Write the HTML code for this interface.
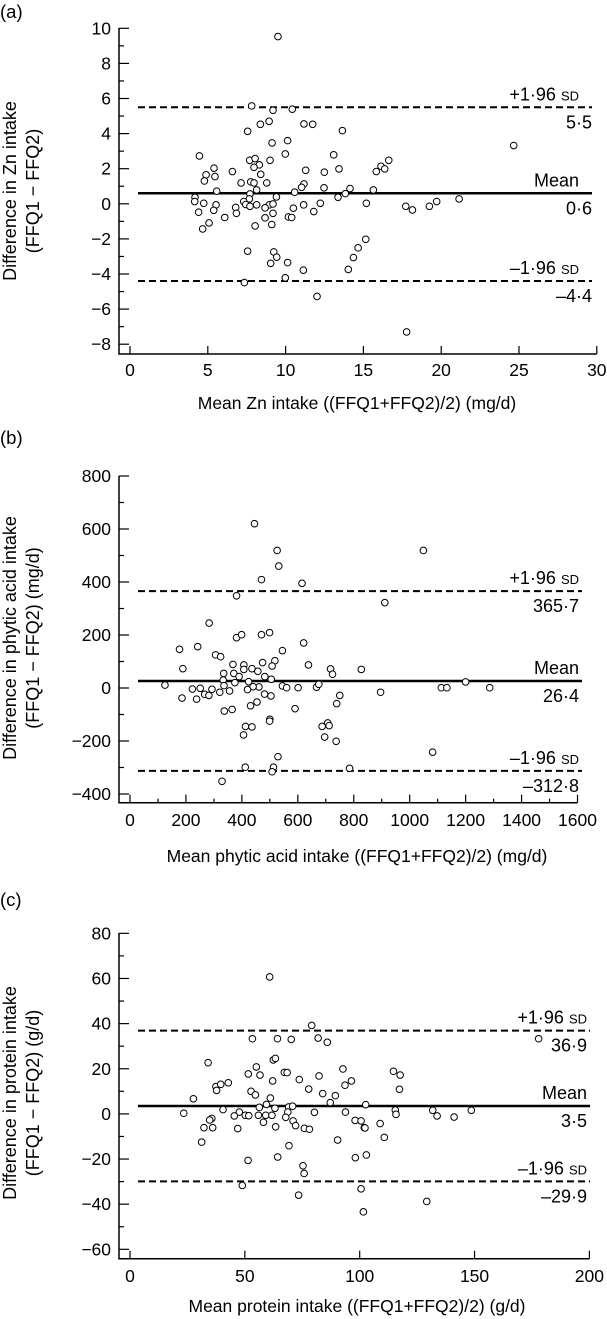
<!DOCTYPE html>
<html><head><meta charset="utf-8"><style>
html,body{margin:0;padding:0;background:#fff;}
svg{display:block;font-family:"Liberation Sans",Arial,sans-serif;}
</style></head><body>
<svg id="chart" width="607" height="1319" viewBox="0 0 607 1319" xmlns="http://www.w3.org/2000/svg"></svg>
<script>
// ---- Panel (a) Zn ----
const aX=[9.51,7.82,9.19,10.43,8.38,8.94,11.18,11.74,7.56,13.65,9.13,10.13,24.66,4.46,9.98,13.09,7.69,8.04,9.00,16.63,8.31,7.97,5.40,11.29,13.43,16.13,16.37,4.89,5.46,6.58,8.40,12.49,15.83,4.78,7.14,7.76,7.97,8.79,11.18,11.03,5.57,7.71,8.14,12.47,10.58,14.14,15.64,13.84,7.67,9.41,4.18,13.37,21.15,4.16,4.74,5.53,7.31,7.44,7.71,8.14,8.96,9.19,11.16,12.23,15.19,19.71,17.72,18.15,19.24,4.41,5.38,6.79,6.84,8.68,9.19,10.50,11.81,6.09,8.68,10.18,10.39,5.08,9.11,8.04,4.67,15.15,14.66,7.56,9.24,9.43,14.36,9.04,10.13,11.14,14.03,9.98,7.35,12.02,17.78];
const aY=[9.53,5.58,5.33,5.39,4.53,4.70,4.55,4.53,4.13,4.17,3.47,3.60,3.32,2.73,2.84,2.79,2.48,2.58,2.48,2.48,2.22,2.08,2.03,1.91,1.99,2.14,1.99,1.65,1.55,1.84,1.68,1.80,1.84,1.30,1.19,1.25,1.19,1.19,1.13,0.94,0.72,0.56,0.79,0.91,0.66,0.87,0.79,0.58,0.28,0.39,0.37,0.37,0.28,0.13,0.03,-0.06,0.13,-0.04,-0.14,-0.06,-0.06,-0.01,-0.06,0.03,0.03,0.13,-0.14,-0.35,-0.14,-0.48,-0.37,-0.21,-0.54,-0.23,-0.54,-0.25,-0.44,-0.78,-0.80,-0.75,-0.78,-1.09,-1.18,-1.26,-1.43,-2.02,-2.51,-2.70,-2.74,-3.04,-3.06,-3.39,-3.35,-3.78,-3.74,-4.22,-4.49,-5.28,-7.30];
const aLimits=[5.5,0.6,-4.4];
const aXTicks=[0,5,10,15,20,25,30];
const aYTicks=[-8,-6,-4,-2,0,2,4,6,8,10];
// ---- Panel (b) phytic acid ----
const bX=[445,526,1049,532,470,615,381,911,283,381,399,470,499,621,177,242,545,306,324,368,407,474,518,508,638,189,436,457,717,724,827,335,371,407,390,424,482,505,333,375,125,336,545,560,601,461,440,223,251,293,321,356,420,667,675,1113,1133,1200,1286,267,282,481,504,896,750,186,238,431,454,337,365,590,739,500,499,413,436,687,707,712,406,696,737,1082,529,412,513,508,785,329];
const bY=[620,519,519,460,409,395,348,322,245,190,201,201,209,170,146,156,141,125,118,89,87,96,103,83,87,73,73,63,72,52,70,55,55,70,43,24,43,33,30,20,11,9,8,1,1,4,5,-4,-1,-5,-16,-11,-6,3,14,1,1,23,1,-24,-28,-23,-30,-16,-28,-38,-42,-67,-53,-87,-81,-78,-59,-118,-125,-145,-147,-145,-132,-142,-177,-185,-201,-242,-259,-299,-299,-316,-303,-352];
const bLimits=[365.7,26.4,-312.8];
const bXTicks=[0,200,400,600,800,1000,1200,1400,1600];
const bYTicks=[-400,-200,0,200,400,600,800];
// ---- Panel (c) protein ----
const cX=[60.8,79.1,177.9,53.3,64.2,70.2,81.9,85.9,34.0,62.4,63.3,55.0,92.7,114.7,51.5,56.6,67.2,68.4,82.3,117.6,42.8,37.4,39.5,62.1,73.7,96.4,93.6,77.8,117.3,37.7,52.7,54.6,83.9,27.6,61.1,89.4,87.2,56.3,59.4,63.1,69.1,70.8,102.6,115.5,131.8,40.5,47.6,23.4,45.4,50.2,51.7,55.9,59.1,61.8,68.7,67.8,80.3,93.8,115.8,133.7,141.1,148.6,35.6,34.7,58.1,71.0,98.0,100.6,108.9,32.2,36.0,46.9,63.4,72.1,75.9,78.1,102.0,102.3,110.7,90.4,31.2,69.2,64.3,98.1,102.9,51.4,75.3,75.8,48.9,100.6,73.4,129.2,101.6];
const cY=[60.7,39.2,33.3,33.3,33.3,33.0,33.6,31.7,22.7,23.9,24.6,20.8,19.9,18.9,17.7,17.2,18.4,18.3,16.8,17.2,13.8,12.1,13.1,14.6,15.2,14.6,12.7,11.0,10.9,10.4,10.0,8.4,9.0,6.7,7.0,8.1,5.0,2.9,4.2,2.5,3.1,3.4,4.1,1.7,1.6,1.9,0.8,0.3,-0.9,-0.6,-0.8,-0.6,-0.6,-0.6,0.8,-1.5,0.7,0.8,-0.2,-0.9,-1.4,1.6,-2.0,-2.7,-3.7,-3.1,-2.9,-3.1,-4.3,-6.1,-6.1,-6.5,-5.7,-5.2,-6.4,-6.8,-6.1,-6.2,-10.4,-11.6,-12.5,-14.1,-19.1,-19.4,-18.2,-20.6,-23.0,-26.4,-31.7,-33.2,-36.0,-38.8,-43.4];
const cLimits=[36.9,3.5,-29.9];
const cXTicks=[0,50,100,150,200];
const cYTicks=[-60,-40,-20,0,20,40,60,80];

const NS="http://www.w3.org/2000/svg";
const svg=document.getElementById('chart');
function mk(tag,attrs,parent){const e=document.createElementNS(NS,tag);for(const k in attrs)e.setAttribute(k,attrs[k]);(parent||svg).appendChild(e);return e;}
function fmt(v){return (v<0?'\u2212':'')+String(Math.abs(v)).replace('.','\u00b7');}
function fmtLim(v){return (v<0?'\u2013':'')+Math.abs(v).toFixed(1).replace('.','\u00b7');}

function panel(p){
  const g=mk('g',{});
  
  
  const sx=v=>p.x0px+(v-p.xmin)*p.xs;
  const sy=v=>p.y0px-v*p.ys;
  const lt=mk('text',{x:0,y:p.letterY,'font-size':18.5},g);lt.textContent='('+p.id+')';
  
  
  const ax=mk('path',{d:`M${p.axL},${p.axTop} V${p.axB} H${p.axR}`,stroke:'#000','stroke-width':1.5,fill:'none'},g);
  
  
  const yMin=p.yTicks[0],yMax=p.yTicks[p.yTicks.length-1],yStep=p.yTicks[1]-p.yTicks[0];
  for(let v=yMin;v<=yMax+1e-9;v+=yStep/2){
    const major=p.yTicks.some(t=>Math.abs(t-v)<1e-9);
    mk('line',{x1:p.axL,x2:p.axL+(major?10:5),y1:sy(v),y2:sy(v),stroke:'#000','stroke-width':1.2},g);
  }
  p.yTicks.forEach(v=>{
    const t=mk('text',{x:p.axL-8,y:sy(v)+6,'font-size':17.5,'text-anchor':'end'},g);
    t.textContent=fmt(v);
    
    
  });
  const xStep=p.xTicks[1]-p.xTicks[0];
  p.xTicks.forEach((v,i)=>{
    mk('line',{x1:sx(v),x2:sx(v),y1:p.axB,y2:p.axB-8,stroke:'#000','stroke-width':1.2},g);
    if(p.minorX && i<p.xTicks.length-1) mk('line',{x1:sx(v+xStep/2),x2:sx(v+xStep/2),y1:p.axB,y2:p.axB-4,stroke:'#000','stroke-width':1.2},g);
    const t=mk('text',{x:sx(v),y:p.xLabY,'font-size':17.5,'text-anchor':'middle'},g);
    t.textContent=String(v);
    
    
  });
  const xt=mk('text',{x:357,y:p.xTitleY,'font-size':17.5,'text-anchor':'middle'},g);
  xt.textContent=p.xTitle;
  
  
  p.yTitle.forEach((s,i)=>{
    const yy=p.yTitleC;const xx=16+i*23;
    const t=mk('text',{x:xx,y:yy,'font-size':18,'text-anchor':'middle',transform:`rotate(-90 ${xx} ${yy})`},g);
    t.textContent=s;
    
    
  });
  p.lim.forEach((v,i)=>{
    const y=sy(v);
    const l=mk('line',{x1:138,x2:p.lineR,y1:y,y2:y,stroke:'#000','stroke-width':i===1?2.5:2,'stroke-dasharray':i===1?'none':'7,4'},g);
    
    
    const top=mk('text',{x:p.labR,y:y-7,'font-size':18,'text-anchor':'end'},g);
    if(i===1){top.textContent='Mean';}
    else{top.textContent=(i===0?'+1\u00b796 ':'\u20131\u00b796 ');const s=mk('tspan',{'font-size':13},top);s.textContent='SD';}
    
    
    const val=mk('text',{x:p.valR,y:y+21,'font-size':18,'text-anchor':'end'},g);
    val.textContent=fmtLim(v);
    
    
  });
  p.X.forEach((xv,i)=>{
    const c=mk('circle',{cx:sx(xv),cy:sy(p.Y[i]),r:3.3,fill:'#fff',stroke:'#000','stroke-width':1},g);
    
    
  });
}

panel({id:'a',X:aX,Y:aY,lim:aLimits,xTicks:aXTicks,yTicks:aYTicks,xmin:0,x0px:130,xs:15.56,y0px:203.8,ys:17.55,
  axL:119,axTop:28,axB:354,axR:596.7,xLabY:376,xTitleY:409,letterY:18,minorX:false,lineR:592,labR:579,valR:592,
  xTitle:'Mean Zn intake ((FFQ1+FFQ2)/2) (mg/d)',yTitle:['Difference in Zn intake','(FFQ1 \u2212 FFQ2)'],yTitleC:191});
panel({id:'b',X:bX,Y:bY,lim:bLimits,xTicks:bXTicks,yTicks:bYTicks,xmin:0,x0px:130,xs:0.2797,y0px:688,ys:0.265,
  axL:119,axTop:476,axB:802.7,axR:577.3,xLabY:826,xTitleY:862,letterY:444,minorX:true,lineR:582,labR:579,valR:579,
  xTitle:'Mean phytic acid intake ((FFQ1+FFQ2)/2) (mg/d)',yTitle:['Difference in phytic acid intake','(FFQ1 \u2212 FFQ2) (mg/d)'],yTitleC:638});
panel({id:'c',X:cX,Y:cY,lim:cLimits,xTicks:cXTicks,yTicks:cYTicks,xmin:0,x0px:130,xs:2.297,y0px:1113.9,ys:2.257,
  axL:119,axTop:933,axB:1258.7,axR:589.3,xLabY:1282,xTitleY:1312,letterY:906,minorX:false,lineR:590,labR:587,valR:587,
  xTitle:'Mean protein intake ((FFQ1+FFQ2)/2) (g/d)',yTitle:['Difference in protein intake','(FFQ1 \u2212 FFQ2) (g/d)'],yTitleC:1093});
</script>
</body></html>
